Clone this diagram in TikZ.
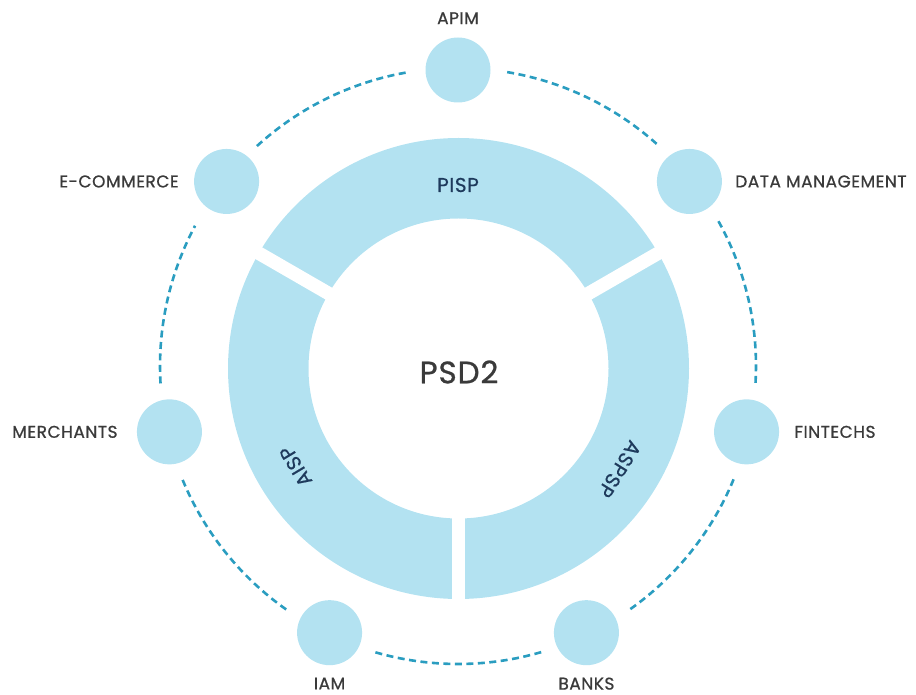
\documentclass[tikz,border=0pt]{standalone}
\usepackage{fontspec}
\setmainfont{Poppins}
\newfontfamily\labelfont{Poppins}[FakeBold=0.8, LetterSpace=3]
\newfontfamily\ringfont{Poppins}[FakeBold=0.6, LetterSpace=3]
\usetikzlibrary{calc}
\definecolor{ringblue}{HTML}{B3E2F1}
\definecolor{dashblue}{HTML}{2A9DC0}
\definecolor{labelgray}{HTML}{3A3A3A}
\definecolor{navyink}{HTML}{1E3A5C}
\tikzset{
  dotnode/.style={circle, fill=ringblue, minimum size=65pt, inner sep=0pt},
  outlabel/.style={text=labelgray, font=\labelfont\fontsize{17}{17}\selectfont, inner sep=0pt},
  ringlabel/.style={text=navyink, font=\ringfont\fontsize{20}{20}\selectfont, inner sep=0pt},
  dashline/.style={draw=dashblue, line width=2.6pt, dash pattern=on 7pt off 4.5pt}
}
\begin{document}
\begin{tikzpicture}[x=1pt,y=1pt]
\useasboundingbox (0,0) rectangle (916,694);
\coordinate (C) at (458.5,325.5);
\coordinate (D) at (458,328);
% ring
\fill[ringblue, even odd rule] (C) circle (230.5) (C) circle (150);
\foreach \a in {30,150,270} \draw[white, line width=13.5pt] (C) -- ($(C)+(\a:245)$);
% outer circles
\node[dotnode] (apim)  at ($(D)+(90:296)$) {};
\node[dotnode] (dm)    at ($(D)+(38.571:296)$) {};
\node[dotnode] (fin)   at ($(D)+(-12.857:296)$) {};
\node[dotnode] (banks) at ($(D)+(-64.286:296)$) {};
\node[dotnode] (iam)   at ($(D)+(-115.714:296)$) {};
\node[dotnode] (merch) at ($(D)+(-167.143:296)$) {};
\node[dotnode] (ecom)  at ($(D)+(141.429:296)$) {};
% dashed arcs
\foreach \s/\e in {80.5/48.071, 29.071/-3.357, -22.357/-54.786, -73.786/-106.214, -125.214/-157.643, -176.643/-208.071, -227.571/-260.5}
  \draw[dashline] ($(D)+(\s:298)$) arc[start angle=\s, end angle=\e, radius=298];
% labels
\node[outlabel, anchor=south] (lapim) at ($(apim.north)+(0,13)$) {APIM};
\node[outlabel, anchor=west] (ldm) at ($(dm.east)+(13,0)$) {DATA MANAGEMENT};
\node[outlabel, anchor=west] (lfin) at ($(fin.east)+(15,0)$) {FINTECHS};
\node[outlabel, anchor=north] (lbanks) at ($(banks.south)+(0,-12)$) {BANKS};
\node[outlabel, anchor=north] (liam) at ($(iam.south)+(0,-12)$) {IAM};
\node[outlabel, anchor=east] (lmerch) at ($(merch.west)+(-19,0)$) {MERCHANTS};
\node[outlabel, anchor=east] (lecom) at ($(ecom.west)+(-15,0)$) {E-COMMERCE};
% ring labels
\node[ringlabel] (pisp) at (458,509) {PISP};
\node[ringlabel, rotate=121] (aisp) at ($(C)+(211:190)$) {AISP};
\node[ringlabel, rotate=-122] (aspsp) at ($(C)+(-32:190)$) {ASPSP};
\node[text=labelgray, font=\labelfont\fontsize{31}{31}\selectfont, inner sep=0pt] (psd) at (459,322) {PSD2};
\end{tikzpicture}
\end{document}
